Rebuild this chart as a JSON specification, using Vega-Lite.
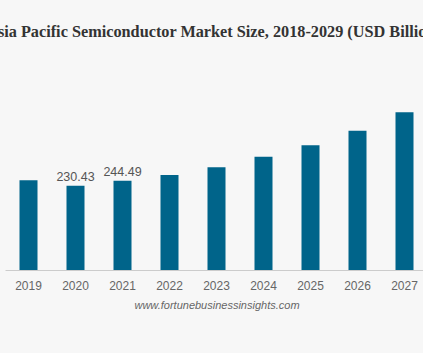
{
  "$schema": "https://vega.github.io/schema/vega-lite/v6.json",
  "autosize": {"type": "none"},
  "width": 423,
  "height": 210,
  "padding": {"left": 5, "top": 60, "right": 0, "bottom": 83},
  "background": "#f7f7f7",
  "title": {
    "text": "Asia Pacific Semiconductor Market Size, 2018-2029 (USD Billion)",
    "font": "Liberation Serif",
    "fontSize": 16.25,
    "fontWeight": "bold",
    "color": "#333333",
    "anchor": "middle",
    "baseline": "alphabetic",
    "offset": 7,
    "dx": -3
  },
  "data": {
    "values": [
      {"year": "2019", "value": 245.7, "label": ""},
      {"year": "2020", "value": 230.43, "label": "230.43"},
      {"year": "2021", "value": 244.49, "label": "244.49"},
      {"year": "2022", "value": 260.0, "label": ""},
      {"year": "2023", "value": 281.0, "label": ""},
      {"year": "2024", "value": 310.0, "label": ""},
      {"year": "2025", "value": 341.5, "label": ""},
      {"year": "2026", "value": 381.0, "label": ""},
      {"year": "2027", "value": 432.0, "label": ""}
    ]
  },
  "config": {"view": {"stroke": null}},
  "encoding": {
    "x": {
      "field": "year",
      "type": "ordinal",
      "scale": {"paddingInner": 0.617, "paddingOuter": 0.3085},
      "axis": {
        "title": "www.fortunebusinessinsights.com",
        "titleFont": "Liberation Sans",
        "titleFontStyle": "italic",
        "titleFontWeight": "normal",
        "titleFontSize": 11,
        "titleColor": "#666666",
        "titlePadding": 8,
        "labelAngle": 0,
        "labelFont": "Liberation Sans",
        "labelFontSize": 12,
        "labelColor": "#666666",
        "labelPadding": 10,
        "ticks": false,
        "domainColor": "#cccccc",
        "grid": false
      }
    },
    "y": {
      "field": "value",
      "type": "quantitative",
      "scale": {"domain": [0, 575], "nice": false},
      "axis": null
    }
  },
  "layer": [
    {"mark": {"type": "bar", "color": "#00648a"}},
    {
      "mark": {
        "type": "text",
        "baseline": "alphabetic",
        "dy": -4.5,
        "font": "Liberation Sans",
        "fontSize": 12.5,
        "color": "#555555"
      },
      "encoding": {"text": {"field": "label"}}
    }
  ]
}
